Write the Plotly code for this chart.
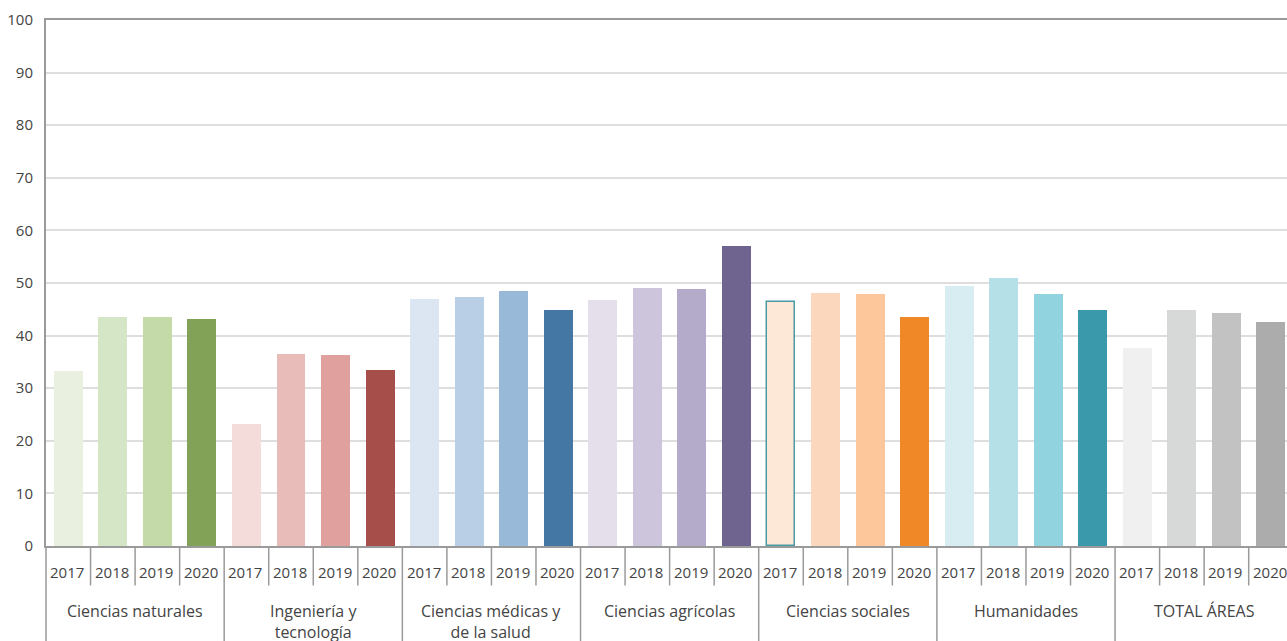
import plotly.graph_objects as go

groups = ["Ciencias naturales", "Ingeniería y<br>tecnología", "Ciencias médicas y<br>de la salud",
          "Ciencias agrícolas", "Ciencias sociales", "Humanidades", "TOTAL ÁREAS"]
years = ["2017", "2018", "2019", "2020"]

ciencias_naturales = [33.3, 43.5, 43.5, 43.2]
ingenieria = [23.2, 36.5, 36.3, 33.5]
ciencias_medicas = [47.0, 47.3, 48.5, 44.9]
ciencias_agricolas = [46.8, 49.0, 48.9, 57.0]
ciencias_sociales = [46.3, 48.1, 47.9, 43.5]
humanidades = [49.4, 51.0, 47.9, 44.9]
total_areas = [37.6, 44.9, 44.3, 42.6]

values = [ciencias_naturales, ingenieria, ciencias_medicas, ciencias_agricolas,
          ciencias_sociales, humanidades, total_areas]

colors = [
    ["#E9F0DF", "#D5E6C7", "#C4DBA9", "#82A257"],
    ["#F4DCDB", "#E8BDB9", "#E0A19E", "#A54E4A"],
    ["#DBE6F2", "#B8CFE5", "#99B9D8", "#4477A3"],
    ["#E4DFEB", "#CCC5DB", "#B4AACA", "#6F648F"],
    ["#FDE8D8", "#FBD8BD", "#FDC69B", "#F08828"],
    ["#D8EDF1", "#B5E0E7", "#91D3DF", "#3A99AB"],
    ["#F0F0F0", "#D7D8D8", "#C1C2C1", "#ABACAB"],
]

FONT = "Open Sans"
TXT = "#444444"
AXC = "#9A9A9A"

xs, ys, cs, lc, lw = [], [], [], [], []
for gi, vals in enumerate(values):
    for yi, v in enumerate(vals):
        xs.append(gi * 4 + yi)
        ys.append(v)
        cs.append(colors[gi][yi])
        outlined = (gi == 4 and yi == 0)
        lc.append("#4A9BA6" if outlined else colors[gi][yi])
        lw.append(1.5 if outlined else 0)

fig = go.Figure(go.Bar(x=xs, y=ys, width=0.65,
                       marker=dict(color=cs, line=dict(color=lc, width=lw)),
                       hoverinfo="y"))

n = len(xs)
x0, x1 = -0.5, 27.36

shapes = []
annotations = []
for i in range(n + 1):
    xd = i - 0.5
    px = (xd - x0) / (x1 - x0)
    if px > 1.001:
        continue
    is_group = (i % 4 == 0)
    shapes.append(dict(type="line", xref="paper", yref="paper", x0=px, x1=px,
                       y0=0, y1=(-0.25 if is_group else -0.075),
                       line=dict(color=AXC, width=1.5)))
for i in range(n):
    annotations.append(dict(x=xs[i], y=0, xref="x", yref="y", text=years[i % 4],
                            showarrow=False, yanchor="middle", yshift=-26, xshift=-1,
                            font=dict(family=FONT, size=15, color=TXT)))
for gi, g in enumerate(groups):
    annotations.append(dict(x=gi * 4 + 1.5, y=0, xref="x", yref="y", text=g,
                            showarrow=False, yanchor="top", yshift=-52,
                            font=dict(family=FONT, size=16, color=TXT)))

fig.update_layout(
    width=1287, height=641,
    margin=dict(l=46, r=0, t=20, b=95),
    paper_bgcolor="white", plot_bgcolor="white",
    showlegend=False,
    bargap=0,
    shapes=shapes,
    annotations=annotations,
    xaxis=dict(range=[x0, x1], showticklabels=False, showgrid=False, zeroline=False,
               showline=True, linecolor=AXC, linewidth=2, mirror=True, ticks=""),
    yaxis=dict(range=[0, 100], tickvals=list(range(0, 101, 10)), showgrid=True,
               gridcolor="#DEDEDE", gridwidth=1.5, zeroline=False,
               showline=True, linecolor=AXC, linewidth=2, ticks="",
               tickfont=dict(family=FONT, size=15, color=TXT), ticklabelstandoff=8),
)

fig.write_html("out.html", config={"displayModeBar": False},
               post_script="document.body.style.margin='0';document.body.style.overflow='hidden';")
